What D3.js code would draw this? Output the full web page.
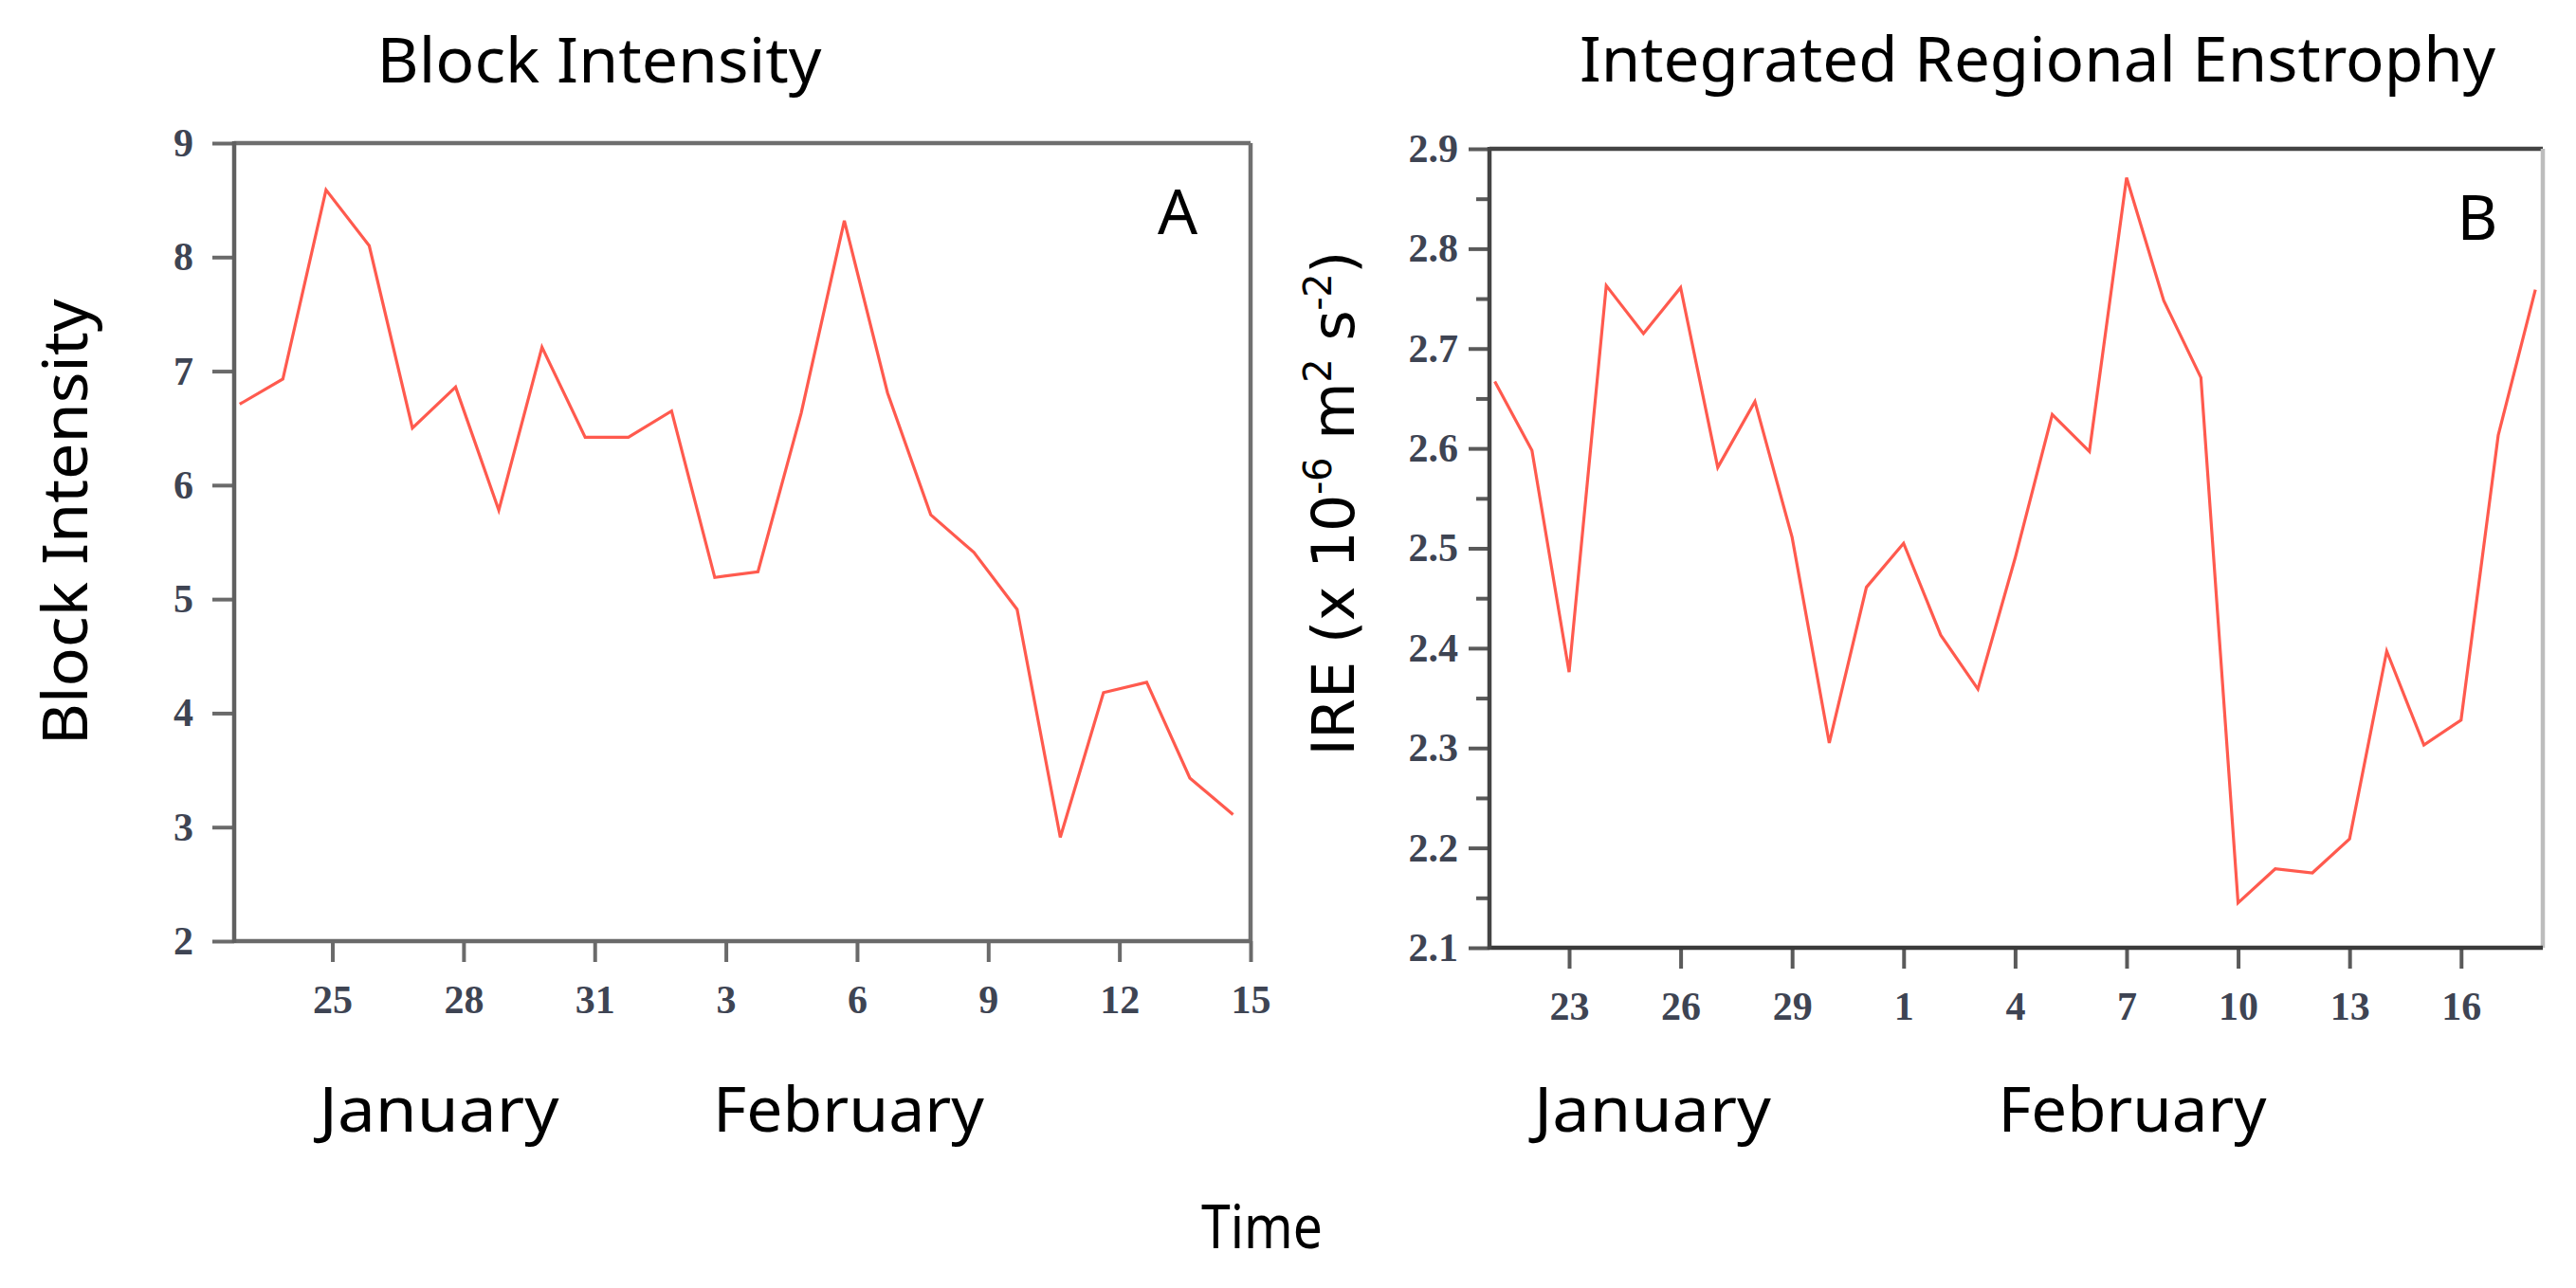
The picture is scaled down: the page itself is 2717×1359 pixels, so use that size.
<!DOCTYPE html>
<html><head><meta charset="utf-8">
<script src="https://cdn.jsdelivr.net/npm/d3@7"></script>
<style>html,body{margin:0;padding:0;background:#fff;overflow:hidden}</style>
</head><body>
<svg id="chart" width="2717" height="1359"></svg>
<script>
// ---------- Panel A: Block Intensity ----------
const blockDates = ["Jan 23","Jan 24","Jan 25","Jan 26","Jan 27","Jan 28","Jan 29","Jan 30","Jan 31",
  "Feb 1","Feb 2","Feb 3","Feb 4","Feb 5","Feb 6","Feb 7","Feb 8","Feb 9","Feb 10","Feb 11","Feb 12","Feb 13","Feb 14","Feb 15"];
const blockValues = [6.71, 6.93, 8.59, 8.10, 6.50, 6.86, 5.78, 7.21, 6.42, 6.42, 6.65, 5.19,
  5.24, 6.63, 8.32, 6.81, 5.74, 5.41, 4.91, 2.91, 4.18, 4.27, 3.43, 3.11];
const blockYTicks = [2, 3, 4, 5, 6, 7, 8, 9];
const blockXTicks = [25, 28, 31, 34, 37, 40, 43, 46];          // day number (Feb 1 = 32)
const blockXTickLabels = ["25", "28", "31", "3", "6", "9", "12", "15"];

// ---------- Panel B: Integrated Regional Enstrophy ----------
const ireDates = ["Jan 21","Jan 22","Jan 23","Jan 24","Jan 25","Jan 26","Jan 27","Jan 28","Jan 29","Jan 30","Jan 31",
  "Feb 1","Feb 2","Feb 3","Feb 4","Feb 5","Feb 6","Feb 7","Feb 8","Feb 9","Feb 10","Feb 11","Feb 12","Feb 13",
  "Feb 14","Feb 15","Feb 16","Feb 17","Feb 18"];
const ireValues = [2.667, 2.598, 2.376, 2.763, 2.715, 2.761, 2.581, 2.647, 2.511, 2.305, 2.461, 2.505,
  2.413, 2.359, 2.490, 2.634, 2.597, 2.871, 2.748, 2.671, 2.145, 2.179, 2.175, 2.209, 2.397, 2.303,
  2.328, 2.613, 2.759];
const ireYTicks = [2.1, 2.2, 2.3, 2.4, 2.5, 2.6, 2.7, 2.8, 2.9];
const ireYMinorTicks = [2.15, 2.25, 2.35, 2.45, 2.55, 2.65, 2.75, 2.85];
const ireXTicks = [23, 26, 29, 32, 35, 38, 41, 44, 47];
const ireXTickLabels = ["23", "26", "29", "1", "4", "7", "10", "13", "16"];

const svg = d3.select("#chart");
svg.append("rect").attr("width", 2717).attr("height", 1359).attr("fill", "#fff");

const SANS = "'Noto Sans', 'Open Sans', sans-serif";
const SERIF = "'Liberation Serif', 'DejaVu Serif', serif";
const LINE = "#ff5a4e";
const TICKTXT = "#3e4453";

function panel(cfg) {
  const g = svg.append("g");
  const x = d3.scaleLinear().domain(cfg.xDomain).range([cfg.left, cfg.right]);
  const xd = d3.scalePoint().domain(cfg.dates).range([x(cfg.firstDay), x(cfg.lastDay)]);
  const y = d3.scaleLinear().domain(cfg.yDomain).range([cfg.bottom, cfg.top]);

  // y axis (major)
  const ya = g.append("g").attr("transform", `translate(${cfg.left},0)`)
    .call(d3.axisLeft(y).tickValues(cfg.yTicks).tickSize(cfg.yTickLen).tickPadding(cfg.yPad)
      .tickFormat(cfg.yFmt));
  ya.select(".domain").remove();
  ya.selectAll("line").attr("stroke", cfg.tickColor).attr("stroke-width", 4);
  ya.selectAll("text").attr("font-family", SERIF).attr("font-size", 42).attr("font-weight", "bold")
    .attr("fill", TICKTXT);

  if (cfg.yMinor) {
    const ym = g.append("g").attr("transform", `translate(${cfg.left},0)`)
      .call(d3.axisLeft(y).tickValues(cfg.yMinor).tickSize(14).tickFormat(""));
    ym.select(".domain").remove();
    ym.selectAll("line").attr("stroke", cfg.tickColor).attr("stroke-width", 4);
  }

  // x axis
  const xa = g.append("g").attr("transform", `translate(0,${cfg.bottom})`)
    .call(d3.axisBottom(x).tickValues(cfg.xTicks).tickSize(22).tickPadding(24)
      .tickFormat((d, i) => cfg.xLabels[i]));
  xa.select(".domain").remove();
  xa.selectAll("line").attr("stroke", cfg.tickColor).attr("stroke-width", 4);
  xa.selectAll("text").attr("font-family", SERIF).attr("font-size", 42).attr("font-weight", "bold")
    .attr("fill", TICKTXT);

  // frame
  const fr = g.append("g").attr("fill", "none").attr("stroke-width", 4.5);
  fr.append("line").attr("x1", cfg.left).attr("x2", cfg.right).attr("y1", cfg.top).attr("y2", cfg.top).attr("stroke", cfg.topColor);
  fr.append("line").attr("x1", cfg.right).attr("x2", cfg.right).attr("y1", cfg.top).attr("y2", cfg.bottom).attr("stroke", cfg.rightColor);
  fr.append("line").attr("x1", cfg.left).attr("x2", cfg.right).attr("y1", cfg.bottom).attr("y2", cfg.bottom).attr("stroke", cfg.bottomColor);
  fr.append("line").attr("x1", cfg.left).attr("x2", cfg.left).attr("y1", cfg.top - 2).attr("y2", cfg.bottom + 2).attr("stroke", cfg.leftColor);

  // data line
  const line = d3.line().x((d, i) => xd(cfg.dates[i])).y(d => y(d));
  g.append("path").datum(cfg.values).attr("d", line)
    .attr("fill", "none").attr("stroke", LINE).attr("stroke-width", 3.2)
    .attr("stroke-linejoin", "miter");

  // panel letter
  g.append("text").attr("x", cfg.letterX).attr("y", cfg.top + 96).attr("text-anchor", "middle")
    .attr("font-family", SANS).attr("font-size", 66).attr("fill", "#000").text(cfg.letter);
  return {x, y};
}

panel({
  dates: blockDates, values: blockValues, yTicks: blockYTicks, xTicks: blockXTicks, xLabels: blockXTickLabels,
  xDomain: [22.755, 46.0], firstDay: 22.88, lastDay: 45.6, yDomain: [2, 9],
  left: 247, right: 1319, top: 151, bottom: 993,
  yTickLen: 23, yPad: 20, yFmt: d3.format("d"),
  tickColor: "#6a6a6a", topColor: "#6e6e6e", rightColor: "#707070", bottomColor: "#6a6a6a", leftColor: "#606060",
  letter: "A", letterX: 1242
});

panel({
  dates: ireDates, values: ireValues, yTicks: ireYTicks, yMinor: ireYMinorTicks, xTicks: ireXTicks, xLabels: ireXTickLabels,
  xDomain: [20.857, 49.2], firstDay: 21, lastDay: 49, yDomain: [2.1, 2.9],
  left: 1571, right: 2682, top: 157, bottom: 1000,
  yTickLen: 22, yPad: 11, yFmt: d3.format(".1f"),
  tickColor: "#5a5a5a", topColor: "#444", rightColor: "#bdbdbd", bottomColor: "#3a3a3a", leftColor: "#444",
  letter: "B", letterX: 2613
});

// titles
function label(txt, x, y, opts = {}) {
  const t = svg.append("text").attr("x", x).attr("y", y).attr("text-anchor", "middle")
    .attr("font-family", SANS).attr("font-size", opts.size || 66).attr("fill", "#000");
  if (opts.rotate) t.attr("transform", `rotate(-90,${x},${y})`);
  if (opts.len) t.attr("textLength", opts.len).attr("lengthAdjust", "spacingAndGlyphs");
  t.text(txt);
  return t;
}
label("Block Intensity", 632, 87, {len: 469});
label("Integrated Regional Enstrophy", 2149, 86, {len: 966});
label("Block Intensity", 92, 551, {rotate: true, len: 471});
label("January", 463, 1194, {len: 253});
label("February", 895, 1194, {len: 286});
label("January", 1743, 1194, {len: 250});
label("February", 2249, 1194, {len: 283});
label("Time", 1331, 1317, {size: 64, len: 128});

// IRE y-label with superscripts
const yl = svg.append("text").attr("x", 1428).attr("y", 531).attr("text-anchor", "middle")
  .attr("transform", "rotate(-90,1428,531)")
  .attr("font-family", "'DejaVu Sans', Verdana, sans-serif").attr("font-size", 62).attr("fill", "#000")
  .attr("textLength", 533).attr("lengthAdjust", "spacing");
yl.append("tspan").text("IRE (x 10");
yl.append("tspan").attr("font-size", 40).attr("dy", -24).text("-6");
yl.append("tspan").attr("dy", 24).text(" m");
yl.append("tspan").attr("font-size", 40).attr("dy", -24).text("2");
yl.append("tspan").attr("dy", 24).text(" s");
yl.append("tspan").attr("font-size", 40).attr("dy", -24).text("-2");
yl.append("tspan").attr("dy", 24).text(")");
</script>
</body></html>
